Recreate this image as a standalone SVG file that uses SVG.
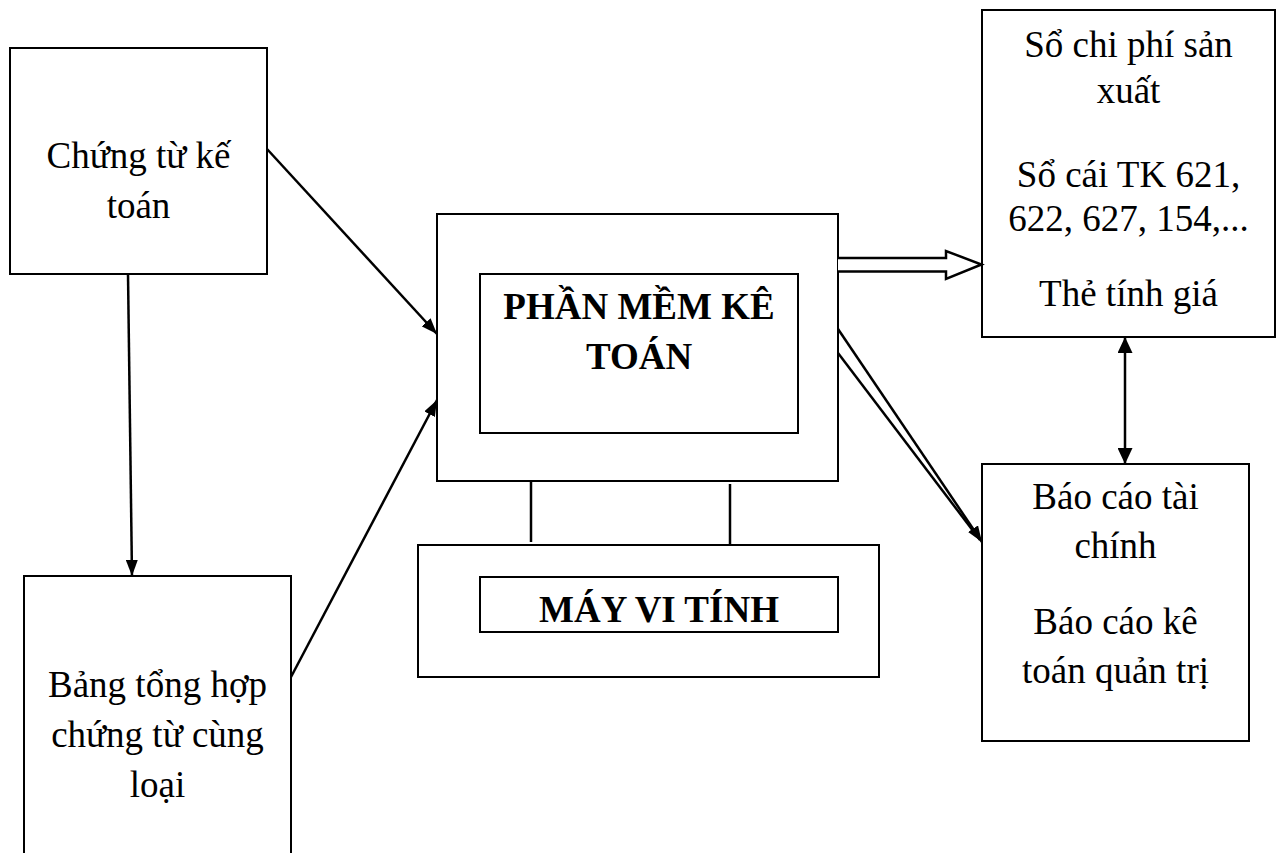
<svg xmlns="http://www.w3.org/2000/svg" width="1283" height="853" viewBox="0 0 1283 853">
  <style>
    .box { fill: #ffffff; stroke: #000000; stroke-width: 2; }
    .txt { font-family: "Liberation Serif", "Times New Roman", serif; font-size: 37px; fill: #000000; text-anchor: middle; }
    .bold { font-weight: bold; }
    .line { stroke: #000000; stroke-width: 2.5; fill: none; }
  </style>
  <defs>
    <marker id="head" markerUnits="userSpaceOnUse" markerWidth="16" markerHeight="12" refX="16" refY="6" orient="auto">
      <path d="M0,0 L16,6 L0,12 z" fill="#000000"/>
    </marker>
    <marker id="headBig" markerUnits="userSpaceOnUse" markerWidth="16" markerHeight="15" refX="16" refY="7.5" orient="auto-start-reverse">
      <path d="M0,0 L16,7.5 L0,15 z" fill="#000000"/>
    </marker>
  </defs>

  <rect width="1283" height="853" fill="#ffffff"/>

  <!-- Source documents -->
  <g id="chung-tu">
    <rect class="box" x="10" y="48" width="257" height="226"/>
    <text class="txt" x="138.5" y="168">Chứng từ kế</text>
    <text class="txt" x="138.5" y="218">toán</text>
  </g>

  <g id="bang-tong-hop">
    <rect class="box" x="24" y="576" width="267" height="300"/>
    <text class="txt" x="157.5" y="697">Bảng tổng hợp</text>
    <text class="txt" x="157.5" y="747">chứng từ cùng</text>
    <text class="txt" x="157.5" y="797">loại</text>
  </g>

  <!-- Computer: monitor and base -->
  <g id="phan-mem">
    <rect class="box" x="437" y="214" width="401" height="267"/>
    <rect class="box" x="480" y="274" width="318" height="159"/>
    <text class="txt bold" x="639" y="319">PHẦN MỀM KÊ</text>
    <text class="txt bold" x="639" y="369">TOÁN</text>
  </g>

  <g id="may-vi-tinh">
    <rect class="box" x="418" y="545" width="461" height="132"/>
    <rect class="box" x="480" y="577" width="358" height="55"/>
    <text class="txt bold" x="659" y="622">MÁY VI TÍNH</text>
  </g>

  <!-- Outputs -->
  <g id="so-sach">
    <rect class="box" x="982" y="10" width="293" height="327"/>
    <text class="txt" x="1128.5" y="57">Sổ chi phí sản</text>
    <text class="txt" x="1128.5" y="103">xuất</text>
    <text class="txt" x="1128.5" y="187">Sổ cái TK 621,</text>
    <text class="txt" x="1128.5" y="231">622, 627, 154,...</text>
    <text class="txt" x="1128.5" y="306">Thẻ tính giá</text>
  </g>

  <g id="bao-cao">
    <rect class="box" x="982" y="464" width="267" height="277"/>
    <text class="txt" x="1115.5" y="509">Báo cáo tài</text>
    <text class="txt" x="1115.5" y="558">chính</text>
    <text class="txt" x="1115.5" y="634">Báo cáo kê</text>
    <text class="txt" x="1115.5" y="683">toán quản trị</text>
  </g>

  <!-- Connectors -->
  <g id="connectors">
    <line class="line" x1="128" y1="274" x2="132" y2="576" marker-end="url(#head)"/>
    <line class="line" x1="267" y1="149" x2="437" y2="334" marker-end="url(#head)"/>
    <line class="line" x1="291" y1="677" x2="437" y2="400" marker-end="url(#head)"/>
    <line class="line" x1="531" y1="481" x2="531" y2="542"/>
    <line class="line" x1="730" y1="484" x2="730" y2="545"/>
    <path d="M838,258 L946,258 L946,251 L981.5,264.5 L946,279 L946,271.5 L838,271.5" fill="#ffffff" stroke="#000000" stroke-width="2.5"/>
    <line class="line" x1="838" y1="329" x2="982" y2="542" marker-end="url(#head)"/>
    <line class="line" x1="838" y1="353" x2="980" y2="540"/>
    <line class="line" x1="1125" y1="337" x2="1125" y2="464" marker-start="url(#headBig)" marker-end="url(#headBig)"/>
  </g>
</svg>
